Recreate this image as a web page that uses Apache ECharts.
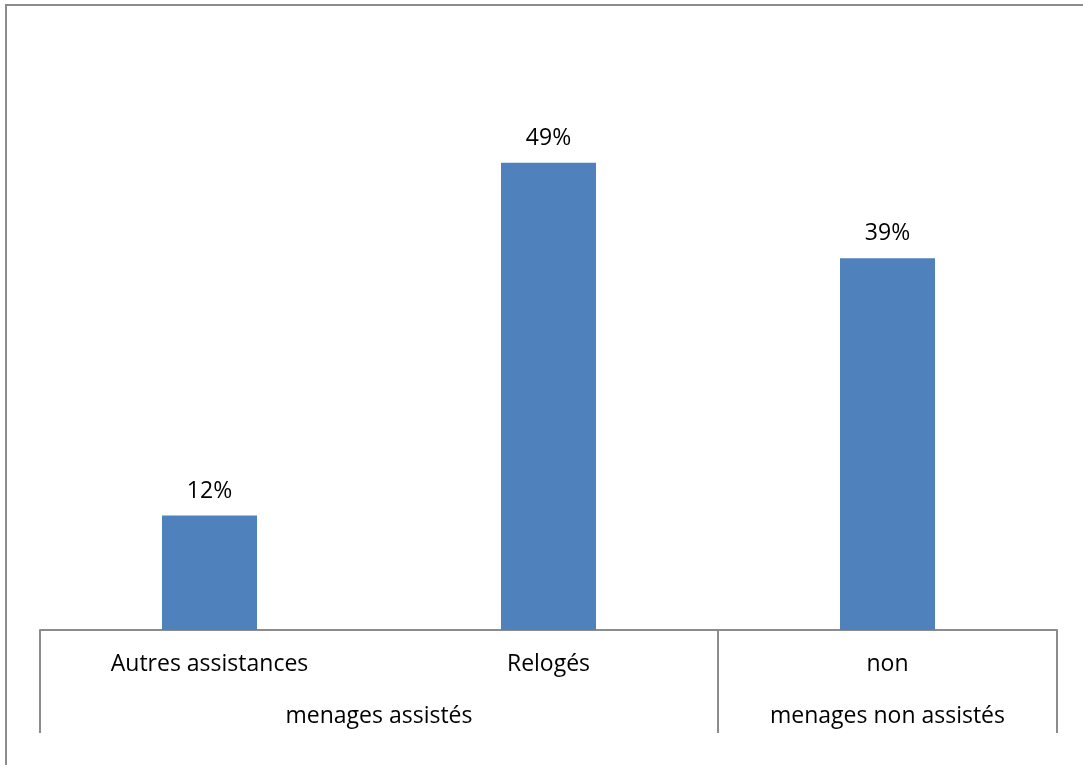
<!DOCTYPE html>
<html><head><meta charset="utf-8">
<script src="https://cdn.jsdelivr.net/npm/echarts@6/dist/echarts.min.js"></script>
<style>html,body{margin:0;padding:0;background:#fff}#c{width:1083px;height:765px}</style>
</head><body><div id="c"></div>
<script>
const categories = ['Autres assistances', 'Relogés', 'non'];
const values = [12, 49, 39];
const groupLabels = ['menages assistés', 'menages non assistés'];
const groupCenters = [1, 2.5];
const groupBounds = [0, 2, 3];

const font = '"Open Sans", "Liberation Sans", sans-serif';
const chart = echarts.init(document.getElementById('c'));
chart.setOption({
  animation: false,
  backgroundColor: '#fff',
  grid: { left: 40, right: 26, top: 58, bottom: 135 },
  graphic: [{
    type: 'rect', shape: { x: 6, y: 5, width: 1300, height: 1000 },
    style: { fill: 'none', stroke: '#8c8c8c', lineWidth: 2 }
  }],
  xAxis: [{
    type: 'category', data: categories,
    axisLine: { show: true, lineStyle: { color: '#8c8c8c', width: 2 } },
    axisTick: { show: false },
    axisLabel: { color: '#000', fontSize: 23, fontFamily: font, margin: 23 }
  }, {
    type: 'value', min: 0, max: 3, position: 'bottom',
    axisLine: { show: false }, splitLine: { show: false },
    axisTick: { show: true, customValues: groupBounds, length: 103, lineStyle: { color: '#8c8c8c', width: 2 } },
    axisLabel: { show: true, customValues: groupCenters, color: '#000', fontSize: 23, fontFamily: font, margin: 75,
      formatter: v => groupLabels[groupCenters.indexOf(v)] }
  }],
  yAxis: { type: 'value', min: 0, max: 60, show: false, splitLine: { show: false } },
  series: [{
    type: 'bar', data: values, barWidth: 95, xAxisIndex: 0,
    itemStyle: { color: '#4f81bd' },
    label: { show: true, position: 'top', distance: 13, formatter: '{c}%', color: '#000', fontSize: 23, fontFamily: font }
  }]
});
</script></body></html>
